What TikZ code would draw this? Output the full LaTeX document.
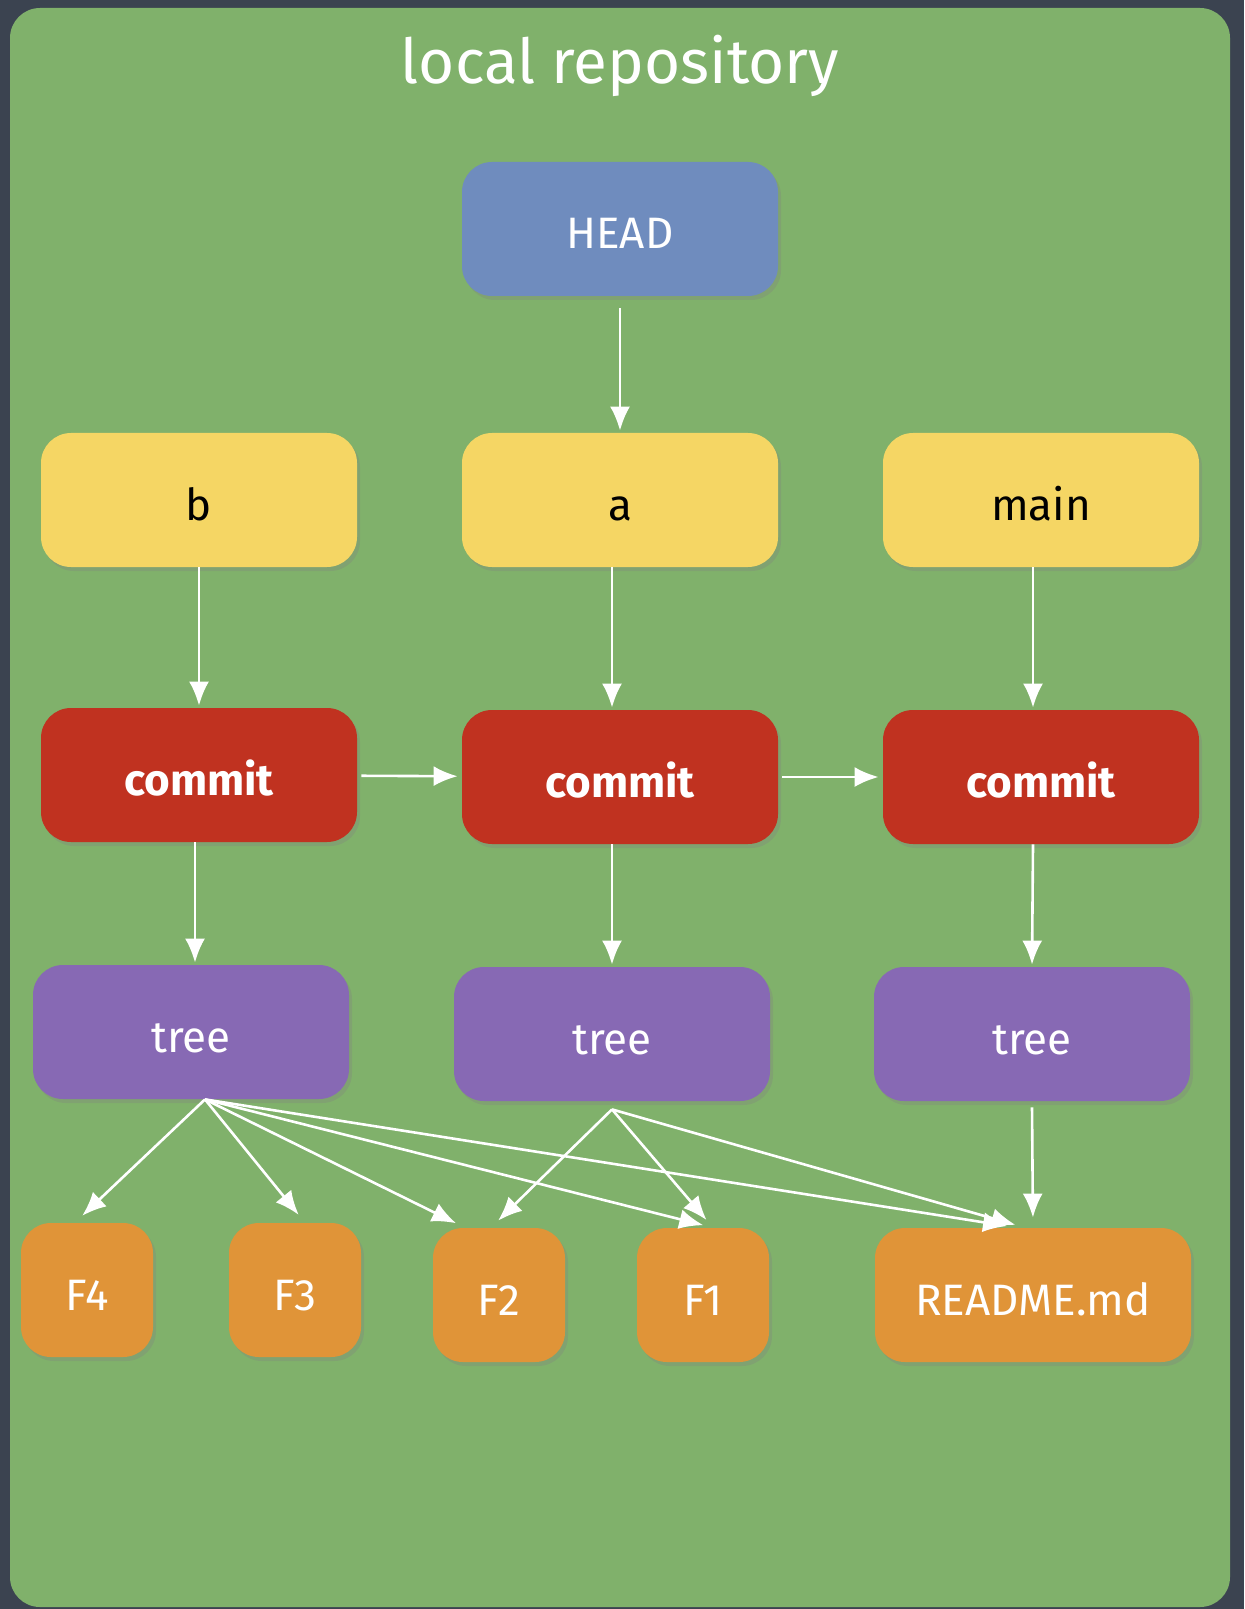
\documentclass[tikz,border=0pt]{standalone}
\usepackage{fontspec}
\setmainfont{Fira Sans}
\usetikzlibrary{arrows.meta,shadows}
\definecolor{slate}{HTML}{3B4350}
\definecolor{board}{HTML}{80B16B}
\definecolor{headblue}{HTML}{6F8CBE}
\definecolor{branchyellow}{HTML}{F5D664}
\definecolor{commitred}{HTML}{C03220}
\definecolor{treepurple}{HTML}{8769B4}
\definecolor{fileorange}{HTML}{E09438}
\tikzset{
  >={Latex[length=12pt,width=10pt]},
  {base box/.style} ={rectangle, rounded corners=15pt, inner sep=0,
                  minimum width=158pt, minimum height=67pt,
                  text height=23pt, text depth=3pt,
                  font=\fontsize{22}{24}\selectfont, text=white,
                  drop shadow={opacity=.3,shadow xshift=1.5pt,shadow yshift=-2pt}},
  {head box/.style} ={base box, fill=headblue},
  {branch box/.style} ={base box, fill=branchyellow, text=black},
  {commit box/.style} ={base box, fill=commitred, font=\fontsize{22}{24}\selectfont\bfseries},
  {tree box/.style} ={base box, fill=treepurple},
  {file box/.style} ={base box, fill=fileorange, minimum width=66pt},
  {title/.style} ={text=white, font=\fontsize{31}{34}\selectfont},
  {link/.style} ={white, line width=1.3pt, ->, shorten >=1pt},
}

\begin{document}
\begin{tikzpicture}[x=0.5pt,y=-0.5pt]
\fill[slate] (0,0) rectangle (1244,1609);
\fill[board, rounded corners=15pt] (10,8) rectangle (1230,1607);
\node[title] (T) at (620,66) {local repository};
% refs
\node[head box] (H) at (620,229) {HEAD};
\node[branch box] (B) at (199,500) {b};
\node[branch box] (A) at (620,500) {a};
\node[branch box] (M) at (1041,500) {main};
% commits and trees
\node[commit box] (CB) at (199,775) {commit};
\node[commit box] (CA) at (620,777) {commit};
\node[commit box] (CM) at (1041,777) {commit};
\node[tree box] (TB) at (191,1032) {tree};
\node[tree box] (TA) at (612,1034) {tree};
\node[tree box] (TM) at (1032,1034) {tree};
% blobs
\node[file box] (F4) at (87,1290) {F4};
\node[file box] (F3) at (295,1290) {F3};
\node[file box] (F2) at (499,1295) {F2};
\node[file box] (F1) at (703,1295) {F1};
\node[file box, minimum width=158pt] (R) at (1033,1295) {README.md};
\path[link] (H) edge[shorten <=6pt] (A.north)
            (B) edge (CB)
            ([xshift=-4pt]A.south) edge ([xshift=-4pt]CA.north)
            ([xshift=-4pt]M.south) edge ([xshift=-4pt]CM.north)
            (CB) edge[shorten <=2pt,shorten >=2pt] (CA)
            (CA) edge[shorten <=2pt,shorten >=2pt] (CM)
            ([xshift=-2pt]CB.south) edge ([xshift=2pt]TB.north)
            ([xshift=-4pt]CA.south) edge (TA.north)
            ([xshift=-4pt]CM.south) edge (TM.north);
\path[link, shorten >=5pt] ([xshift=7pt]TB.south) edge ([xshift=-6pt]F4.north)
            ([xshift=7pt]TB.south) edge ([xshift=5pt]F3.north)
            ([xshift=7pt]TB.south) edge ([xshift=-17pt]F2.north)
            ([xshift=7pt]TB.south) edge ([xshift=5pt]F1.north)
            ([xshift=7pt]TB.south) edge ([xshift=-8pt]R.north)
            ([yshift=-4pt]TA.south) edge ([xshift=-4pt]F2.north)
            ([yshift=-4pt]TA.south) edge ([xshift=5pt]F1.north)
            ([yshift=-4pt]TA.south) edge ([xshift=-4pt]R.north)
            ([yshift=-3pt]TM.south) edge (R.north);
\end{tikzpicture}
\end{document}
